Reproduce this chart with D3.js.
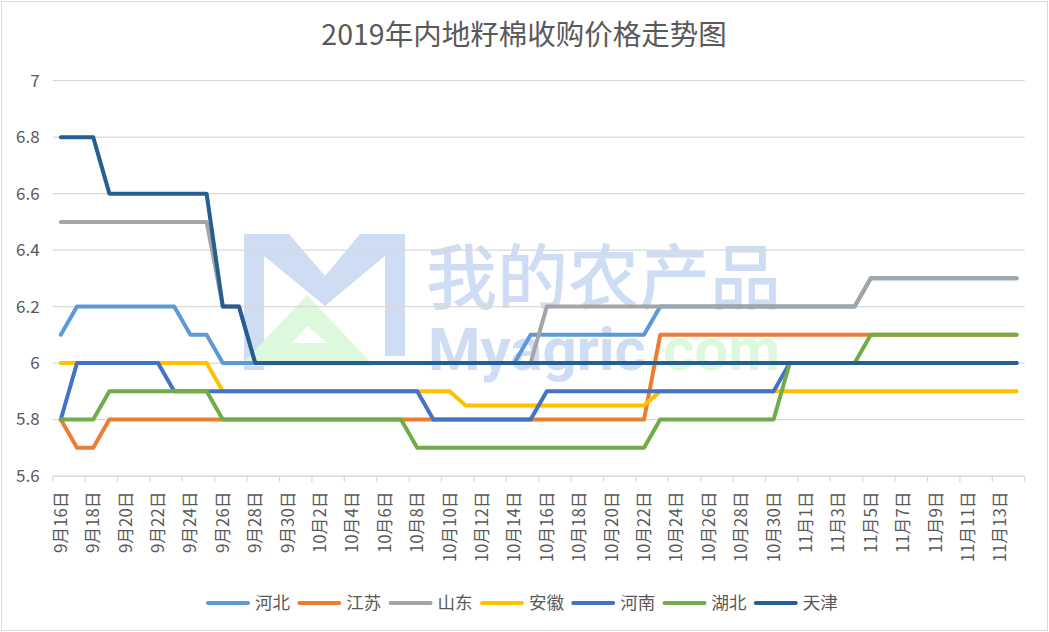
<!DOCTYPE html>
<html>
<head>
<meta charset="utf-8">
<script src="https://cdn.jsdelivr.net/npm/d3@7"></script>
<style>
  body { margin: 0; background: #fff; }
  text { font-family: "Noto Sans CJK SC", "Noto Sans", sans-serif; fill: #595959; }
</style>
</head>
<body>
<svg id="chart" width="1049" height="632"></svg>
<script>
const dates = [
  '9月16日','9月17日','9月18日','9月19日','9月20日','9月21日','9月22日','9月23日','9月24日','9月25日',
  '9月26日','9月27日','9月28日','9月29日','9月30日','10月1日','10月2日','10月3日','10月4日','10月5日',
  '10月6日','10月7日','10月8日','10月9日','10月10日','10月11日','10月12日','10月13日','10月14日','10月15日',
  '10月16日','10月17日','10月18日','10月19日','10月20日','10月21日','10月22日','10月23日','10月24日','10月25日',
  '10月26日','10月27日','10月28日','10月29日','10月30日','10月31日','11月1日','11月2日','11月3日','11月4日',
  '11月5日','11月6日','11月7日','11月8日','11月9日','11月10日','11月11日','11月12日','11月13日','11月14日'
];

const hebei = [
  6.1,6.2,6.2,6.2,6.2,6.2,6.2,6.2,6.1,6.1,
  6.0,6.0,6.0,6.0,6.0,6.0,6.0,6.0,6.0,6.0,
  6.0,6.0,6.0,6.0,6.0,6.0,6.0,6.0,6.0,6.1,
  6.1,6.1,6.1,6.1,6.1,6.1,6.1,6.2,6.2,6.2,
  6.2,6.2,6.2,6.2,6.2,6.2,6.2,6.2,6.2,6.2,
  6.3,6.3,6.3,6.3,6.3,6.3,6.3,6.3,6.3,6.3
];
const jiangsu = [
  5.8,5.7,5.7,5.8,5.8,5.8,5.8,5.8,5.8,5.8,
  5.8,5.8,5.8,5.8,5.8,5.8,5.8,5.8,5.8,5.8,
  5.8,5.8,5.8,5.8,5.8,5.8,5.8,5.8,5.8,5.8,
  5.8,5.8,5.8,5.8,5.8,5.8,5.8,6.1,6.1,6.1,
  6.1,6.1,6.1,6.1,6.1,6.1,6.1,6.1,6.1,6.1,
  6.1,6.1,6.1,6.1,6.1,6.1,6.1,6.1,6.1,6.1
];
const shandong = [
  6.5,6.5,6.5,6.5,6.5,6.5,6.5,6.5,6.5,6.5,
  6.2,6.2,6.0,6.0,6.0,6.0,6.0,6.0,6.0,6.0,
  6.0,6.0,6.0,6.0,6.0,6.0,6.0,6.0,6.0,6.0,
  6.2,6.2,6.2,6.2,6.2,6.2,6.2,6.2,6.2,6.2,
  6.2,6.2,6.2,6.2,6.2,6.2,6.2,6.2,6.2,6.2,
  6.3,6.3,6.3,6.3,6.3,6.3,6.3,6.3,6.3,6.3
];
const anhui = [
  6.0,6.0,6.0,6.0,6.0,6.0,6.0,6.0,6.0,6.0,
  5.9,5.9,5.9,5.9,5.9,5.9,5.9,5.9,5.9,5.9,
  5.9,5.9,5.9,5.9,5.9,5.85,5.85,5.85,5.85,5.85,
  5.85,5.85,5.85,5.85,5.85,5.85,5.85,5.9,5.9,5.9,
  5.9,5.9,5.9,5.9,5.9,5.9,5.9,5.9,5.9,5.9,
  5.9,5.9,5.9,5.9,5.9,5.9,5.9,5.9,5.9,5.9
];
const henan = [
  5.8,6.0,6.0,6.0,6.0,6.0,6.0,5.9,5.9,5.9,
  5.9,5.9,5.9,5.9,5.9,5.9,5.9,5.9,5.9,5.9,
  5.9,5.9,5.9,5.8,5.8,5.8,5.8,5.8,5.8,5.8,
  5.9,5.9,5.9,5.9,5.9,5.9,5.9,5.9,5.9,5.9,
  5.9,5.9,5.9,5.9,5.9,6.0,6.0,6.0,6.0,6.0,
  6.0,6.0,6.0,6.0,6.0,6.0,6.0,6.0,6.0,6.0
];
const hubei = [
  5.8,5.8,5.8,5.9,5.9,5.9,5.9,5.9,5.9,5.9,
  5.8,5.8,5.8,5.8,5.8,5.8,5.8,5.8,5.8,5.8,
  5.8,5.8,5.7,5.7,5.7,5.7,5.7,5.7,5.7,5.7,
  5.7,5.7,5.7,5.7,5.7,5.7,5.7,5.8,5.8,5.8,
  5.8,5.8,5.8,5.8,5.8,6.0,6.0,6.0,6.0,6.0,
  6.1,6.1,6.1,6.1,6.1,6.1,6.1,6.1,6.1,6.1
];
const tianjin = [
  6.8,6.8,6.8,6.6,6.6,6.6,6.6,6.6,6.6,6.6,
  6.2,6.2,6.0,6.0,6.0,6.0,6.0,6.0,6.0,6.0,
  6.0,6.0,6.0,6.0,6.0,6.0,6.0,6.0,6.0,6.0,
  6.0,6.0,6.0,6.0,6.0,6.0,6.0,6.0,6.0,6.0,
  6.0,6.0,6.0,6.0,6.0,6.0,6.0,6.0,6.0,6.0,
  6.0,6.0,6.0,6.0,6.0,6.0,6.0,6.0,6.0,6.0
];

const seriesNames = ['河北', '江苏', '山东', '安徽', '河南', '湖北', '天津'];
const seriesValues = [hebei, jiangsu, shandong, anhui, henan, hubei, tianjin];
const seriesColors = ['#5b9bd5', '#ed7d31', '#a5a5a5', '#ffc000', '#4472c4', '#70ad47', '#255e91'];
const yTicks = [5.6, 5.8, 6, 6.2, 6.4, 6.6, 6.8, 7];
const titleText = '2019年内地籽棉收购价格走势图';

const svg = d3.select('#chart');
const width = +svg.attr('width');
const height = +svg.attr('height');
const margin = {top: 80.7, right: 24.3, bottom: 156, left: 52.7};
const innerWidth = width - margin.left - margin.right;
const innerHeight = height - margin.top - margin.bottom;

// chart border
svg.append('rect')
  .attr('x', 1.5).attr('y', 1.5)
  .attr('width', width - 3).attr('height', height - 3)
  .attr('fill', '#fff')
  .attr('stroke', '#d9d9d9');

// watermark
const wm = svg.append('g').attr('class', 'watermark');
wm.append('path')
  .attr('d', 'M244,370 L244,234 L289,234 L325,276 L360,234 L405,234 L405,356 L385,356 L385,256 L325,306 L264,256 L264,370 Z')
  .attr('fill', '#cfddf4');
wm.append('path')
  .attr('d', 'M307,295 L374,366 L240,366 Z M307,326 L292,343 L328,343 Z')
  .attr('fill', '#dcf8dd')
  .attr('fill-rule', 'evenodd');
wm.append('text')
  .attr('x', 426).attr('y', 272)
  .attr('dominant-baseline', 'central')
  .style('font-size', '71px').style('font-weight', 500)
  .style('fill', '#cfddf4')
  .text('我的农产品');
const wmText = wm.append('text')
  .attr('x', 428).attr('y', 370)
  .style('font-family', 'Roboto, sans-serif')
  .style('font-size', '60px').style('font-weight', 700);
wmText.append('tspan').style('fill', '#cfddf4').text('Myagric');
wmText.append('tspan').style('fill', '#dcf8dd').text('.com');

const g = svg.append('g')
  .attr('transform', `translate(${margin.left}, ${margin.top})`);

const xScale = d3.scaleBand().domain(dates).range([0, innerWidth]);
const xCenter = d => xScale(d) + xScale.bandwidth() / 2;
const yScale = d3.scaleLinear().domain([5.6, 7]).range([innerHeight, 0]);

// gridlines
g.append('g')
  .selectAll('line')
  .data(yTicks)
  .enter().append('line')
    .attr('x1', 0).attr('x2', innerWidth)
    .attr('y1', d => yScale(d)).attr('y2', d => yScale(d))
    .attr('stroke', '#d9d9d9')
    .attr('stroke-width', 1.2);

// y labels
g.append('g')
  .selectAll('text')
  .data(yTicks)
  .enter().append('text')
    .attr('x', -13)
    .attr('y', d => yScale(d))
    .attr('dy', '0.35em')
    .attr('text-anchor', 'end')
    .style('font-size', '17px')
    .text(d => d3.format('~g')(d));

// x axis
const xLabels = dates.filter((d, i) => i % 2 === 0);
const xAxisG = g.append('g').attr('transform', `translate(0, ${innerHeight})`);
xAxisG.call(d3.axisBottom(xScale).tickValues(xLabels).tickSize(0).tickSizeOuter(0));
xAxisG.select('.domain').attr('stroke', '#d9d9d9').attr('stroke-width', 1.2);
xAxisG.selectAll('.tick text')
  .attr('transform', 'rotate(-90)')
  .attr('text-anchor', 'end')
  .attr('x', -15.5)
  .attr('y', 0)
  .attr('dy', '0.36em')
  .style('font-size', '16.8px')
  .style('font-family', '"Noto Sans CJK SC", sans-serif')
  .attr('fill', '#595959');

const tickPositions = xLabels.map(d => xScale(d)).concat([innerWidth]);
xAxisG.append('g')
  .selectAll('line')
  .data(tickPositions)
  .enter().append('line')
    .attr('x1', d => d).attr('x2', d => d)
    .attr('y1', 0).attr('y2', 6)
    .attr('stroke', '#d9d9d9')
    .attr('stroke-width', 1.2);

// lines
const lineGenerator = d3.line()
  .x((d, i) => xCenter(dates[i]))
  .y(d => yScale(d));

g.append('g')
  .selectAll('path')
  .data(seriesValues)
  .enter().append('path')
    .attr('class', 'line-path')
    .attr('d', lineGenerator)
    .attr('fill', 'none')
    .attr('stroke', (d, i) => seriesColors[i])
    .attr('stroke-width', 4)
    .attr('stroke-linejoin', 'round')
    .attr('stroke-linecap', 'round');

// title
svg.append('text')
  .attr('x', 524)
  .attr('y', 35)
  .attr('dy', '0.35em')
  .attr('text-anchor', 'middle')
  .style('font-size', '28.5px')
  .text(titleText);

// legend
const legendStart = 206;
const legendStep = 91.3;
const legendY = 603;
const legend = svg.append('g')
  .selectAll('g')
  .data(seriesNames)
  .enter().append('g')
    .attr('transform', (d, i) => `translate(${legendStart + i * legendStep}, ${legendY})`);
legend.append('line')
  .attr('x1', 2).attr('x2', 42)
  .attr('stroke', (d, i) => seriesColors[i])
  .attr('stroke-width', 4)
  .attr('stroke-linecap', 'round');
legend.append('text')
  .attr('x', 49)
  .attr('dy', '0.35em')
  .style('font-size', '17.5px')
  .text(d => d);
</script>
</body>
</html>
